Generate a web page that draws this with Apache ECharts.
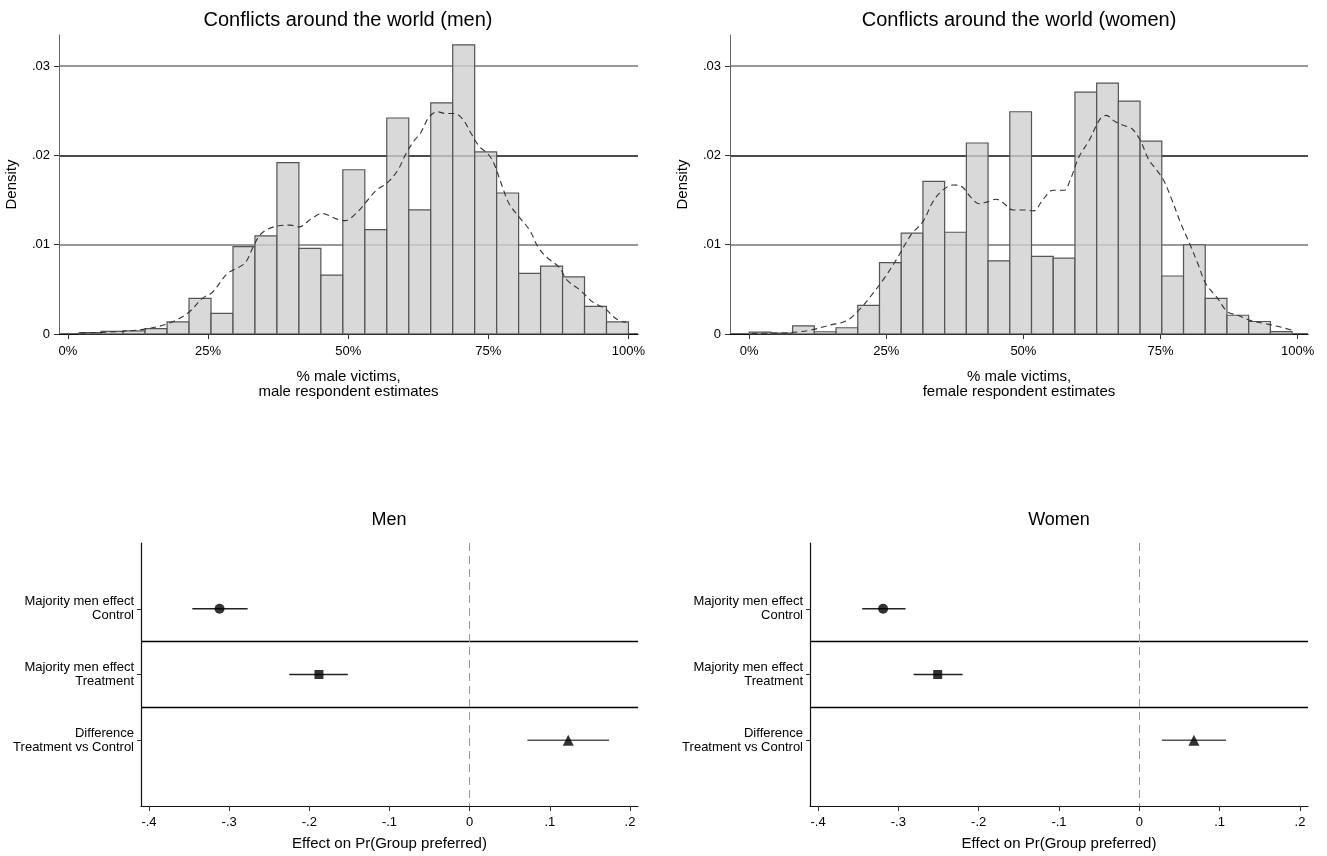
<!DOCTYPE html>
<html>
<head>
<meta charset="utf-8">
<script src="https://cdn.jsdelivr.net/npm/echarts@6/dist/echarts.min.js"></script>
<style>
html, body { margin: 0; padding: 0; background: #fff; }
#main { width: 1327px; height: 856px; }
</style>
</head>
<body>
<div id="main"></div>
<script>
// histogram bins (% male victims)
var menBinStart = 2, menBinWidth = 3.92;
var menDensity = [0.00015, 0.0003, 0.00035, 0.0006, 0.00135, 0.0040, 0.0023, 0.0098, 0.0110, 0.0192,
  0.0096, 0.0066, 0.0184, 0.0117, 0.0242, 0.0139, 0.0259, 0.0324, 0.0204, 0.0158,
  0.0068, 0.0076, 0.0064, 0.0031, 0.00135];
var womenBinStart = 0, womenBinWidth = 3.96;
var womenDensity = [0.0002, 0.0001, 0.0009, 0.00025, 0.0007, 0.0032, 0.0080, 0.0113, 0.0171, 0.0114,
  0.0214, 0.0082, 0.0249, 0.0087, 0.0085, 0.0271, 0.0281, 0.0261, 0.0216, 0.0065,
  0.0100, 0.0040, 0.0021, 0.0014, 0.00026];

// kernel density (dashed)
var menKde = [[2.2, 0.0001], [9.7, 0.0003], [14.2, 0.0006], [18, 0.0012], [21.3, 0.0023], [24, 0.0040],
  [25.8, 0.0047], [28.5, 0.0068], [31.5, 0.0079], [33, 0.0097], [34.4, 0.0112], [36.7, 0.0120],
  [39.7, 0.0122], [41.2, 0.0120], [43.4, 0.0129], [45.3, 0.0135], [47.9, 0.0129], [49.4, 0.0127],
  [51.7, 0.0137], [53.2, 0.0148], [55, 0.0161], [56.9, 0.0169], [58.8, 0.0183], [60.3, 0.0202],
  [61.8, 0.0217], [62.9, 0.0225], [64.4, 0.0243], [65.9, 0.0249], [67.4, 0.0247], [68.9, 0.0247],
  [70.4, 0.0241], [71.9, 0.0225], [73.4, 0.0210], [74.9, 0.0202], [76, 0.0191], [77.5, 0.0165],
  [78.7, 0.0146], [80.5, 0.0131], [82.4, 0.0116], [83.9, 0.0097], [85.4, 0.0086], [87.6, 0.0075],
  [89.1, 0.0060], [91.4, 0.0049], [93.6, 0.0036], [95.9, 0.0028], [97.8, 0.0017], [99.6, 0.0013]];
var womenKde = [[0.4, 0.00005], [3.9, 0.0001], [7, 0.00015], [10.9, 0.0004], [14.7, 0.0010], [17.8, 0.0015],
  [20.2, 0.0028], [22.5, 0.0045], [24.8, 0.0064], [27.1, 0.0086], [29.5, 0.0111], [31.8, 0.0127],
  [33.3, 0.0146], [34.9, 0.0159], [37.2, 0.0167], [38.8, 0.0165], [40.3, 0.0154], [41.9, 0.0146],
  [43.4, 0.0148], [45, 0.0151], [46.5, 0.0146], [48.1, 0.0139], [50.4, 0.0139], [51.9, 0.0138],
  [53.5, 0.0150], [55.4, 0.0161], [57.4, 0.0161], [58.5, 0.0172], [60.1, 0.0198], [62, 0.0217],
  [64, 0.0241], [65.1, 0.0245], [66.7, 0.0238], [68.2, 0.0234], [69.8, 0.0230], [71.3, 0.0217],
  [72.9, 0.0195], [74.4, 0.0183], [75.6, 0.0172], [77.1, 0.0150], [78.7, 0.0124], [80.2, 0.0103],
  [81.8, 0.0079], [83.3, 0.0056], [85.3, 0.0041], [87.2, 0.0025], [89.1, 0.0021], [91.5, 0.0015],
  [93.8, 0.0012], [96.1, 0.0009], [99.2, 0.0004]];

var pctTicks = [0, 25, 50, 75, 100];
var densityTicks = [0, 0.01, 0.02, 0.03];
var densityTickLabels = ['0', '.01', '.02', '.03'];

// coefficient plots
var rowLabels = ['Majority men effect\nControl', 'Majority men effect\nTreatment', 'Difference\nTreatment vs Control'];
var rowSymbols = ['circle', 'rect', 'triangle'];
var menEst = [-0.312, -0.188, 0.123];
var menLo = [-0.346, -0.225, 0.072];
var menHi = [-0.277, -0.152, 0.174];
var womenEst = [-0.319, -0.251, 0.068];
var womenLo = [-0.345, -0.281, 0.028];
var womenHi = [-0.291, -0.220, 0.108];
var effectTicks = [-0.4, -0.3, -0.2, -0.1, 0, 0.1, 0.2];
var effectTickLabels = ['-.4', '-.3', '-.2', '-.1', '0', '.1', '.2'];

var FONT = '"Liberation Sans", Arial, sans-serif';
var myChart = echarts.init(document.getElementById('main'), null, { renderer: 'canvas' });

function histSeries(idx, start, width, dens) {
  var data = dens.map(function (d, i) {
    return [start + i * width, start + (i + 1) * width, d];
  });
  return {
    type: 'custom', xAxisIndex: idx, yAxisIndex: idx, z: 3, silent: true,
    data: data, encode: { x: [0, 1], y: 2 },
    renderItem: function (params, api) {
      var p0 = api.coord([api.value(0), api.value(2)]);
      var p1 = api.coord([api.value(1), 0]);
      return {
        type: 'rect',
        shape: { x: p0[0], y: p0[1], width: p1[0] - p0[0], height: p1[1] - p0[1] },
        style: { fill: 'rgba(208,208,208,0.8)', stroke: '#555', lineWidth: 1.2 }
      };
    }
  };
}

function kdeSeries(idx, pts) {
  return {
    type: 'line', xAxisIndex: idx, yAxisIndex: idx, z: 4, silent: true,
    data: pts, showSymbol: false, symbol: 'none', smooth: 0.35,
    lineStyle: { color: '#333', width: 1.1, type: [6, 4] }
  };
}

function ciSeries(idx, lo, hi) {
  var data = lo.map(function (l, i) { return [l, hi[i], i + 1]; });
  return {
    type: 'custom', xAxisIndex: idx, yAxisIndex: idx, z: 3, silent: true,
    data: data, encode: { x: [0, 1], y: 2 },
    renderItem: function (params, api) {
      var a = api.coord([api.value(0), api.value(2)]);
      var b = api.coord([api.value(1), api.value(2)]);
      return {
        type: 'line',
        shape: { x1: a[0], y1: a[1], x2: b[0], y2: b[1] },
        style: { stroke: params.dataIndex === 2 ? '#555' : '#222', lineWidth: 1.3 }
      };
    }
  };
}

function pointSeries(idx, est) {
  return {
    type: 'scatter', xAxisIndex: idx, yAxisIndex: idx, z: 5, silent: true,
    data: est.map(function (v, i) {
      return { value: [v, i + 1], symbol: rowSymbols[i], symbolSize: i === 2 ? 11 : (i === 1 ? 9 : 10) };
    }),
    itemStyle: { color: '#000' },
    markLine: {
      silent: true, symbol: 'none', label: { show: false },
      data: [
        { yAxis: 1.5, lineStyle: { color: '#000', width: 1.3, type: 'solid' } },
        { yAxis: 2.5, lineStyle: { color: '#000', width: 1.3, type: 'solid' } },
        { xAxis: 0, lineStyle: { color: '#999', width: 1, type: [8, 5] } }
      ]
    }
  };
}

function pctAxis(idx, min, max, name) {
  return {
    type: 'value', gridIndex: idx, min: min, max: max,
    name: name, nameLocation: 'middle', nameGap: 36,
    nameTextStyle: { fontFamily: FONT, fontSize: 15, color: '#000', lineHeight: 14.5 },
    axisLine: { show: true, onZero: false, lineStyle: { color: '#111', width: 1.2 } },
    axisTick: { show: true, length: 5, customValues: pctTicks, lineStyle: { color: '#333' } },
    axisLabel: {
      customValues: pctTicks, margin: 11, fontFamily: FONT, fontSize: 13, color: '#000',
      formatter: function (v) { return v + '%'; }
    },
    splitLine: { show: false }
  };
}

function densityAxis(idx) {
  return {
    type: 'value', gridIndex: idx, min: 0, max: 0.0335, interval: 0.01,
    name: 'Density', nameLocation: 'middle', nameRotate: 90, nameGap: 40,
    nameTextStyle: { fontFamily: FONT, fontSize: 15, color: '#000' },
    axisLine: { show: true, onZero: false, lineStyle: { color: '#666', width: 1 } },
    axisTick: { show: true, length: 5, customValues: densityTicks, lineStyle: { color: '#333' } },
    axisLabel: {
      customValues: densityTicks, margin: 9, fontFamily: FONT, fontSize: 13, color: '#000',
      formatter: function (v) { return densityTickLabels[densityTicks.indexOf(v)]; }
    },
    splitLine: {
      show: true,
      lineStyle: { color: ['#333', '#777', '#111', '#777'], width: 1.5 }
    }
  };
}

function effectAxis(idx) {
  return {
    type: 'value', gridIndex: idx, min: -0.41, max: 0.21,
    name: 'Effect on Pr(Group preferred)', nameLocation: 'middle', nameGap: 30,
    nameTextStyle: { fontFamily: FONT, fontSize: 15, color: '#000' },
    axisLine: { show: true, onZero: false, lineStyle: { color: '#111', width: 1.2 } },
    axisTick: { show: true, length: 5, customValues: effectTicks, lineStyle: { color: '#333' } },
    axisLabel: {
      customValues: effectTicks, margin: 10, fontFamily: FONT, fontSize: 13, color: '#000',
      formatter: function (v) {
        var k = effectTicks.indexOf(v);
        return k >= 0 ? effectTickLabels[k] : '';
      }
    },
    splitLine: { show: false }
  };
}

function rowAxis(idx) {
  return {
    type: 'value', gridIndex: idx, min: 0, max: 4, inverse: true,
    axisLine: { show: true, onZero: false, lineStyle: { color: '#111', width: 1.2 } },
    axisTick: { show: true, length: 4, customValues: [1, 2, 3], lineStyle: { color: '#333' } },
    axisLabel: {
      customValues: [1, 2, 3], margin: 7, fontFamily: FONT, fontSize: 13, color: '#000',
      lineHeight: 14, align: 'right',
      formatter: function (v) { return rowLabels[v - 1] || ''; }
    },
    splitLine: { show: false }
  };
}

var titleStyle = { fontFamily: FONT, fontSize: 20, fontWeight: 'normal', color: '#000' };
var subTitleStyle = { fontFamily: FONT, fontSize: 18, fontWeight: 'normal', color: '#000' };

var option = {
  animation: false,
  backgroundColor: '#fff',
  title: [
    { text: 'Conflicts around the world (men)', left: 348, top: 10, textAlign: 'center', padding: 0, textStyle: titleStyle },
    { text: 'Conflicts around the world (women)', left: 1019, top: 10, textAlign: 'center', padding: 0, textStyle: titleStyle },
    { text: 'Men', left: 389, top: 511, textAlign: 'center', padding: 0, textStyle: subTitleStyle },
    { text: 'Women', left: 1059, top: 511, textAlign: 'center', padding: 0, textStyle: subTitleStyle }
  ],
  grid: [
    { left: 59, top: 35, width: 579, height: 299 },
    { left: 730, top: 35, width: 578, height: 299 },
    { left: 141, top: 543, width: 497, height: 263 },
    { left: 810, top: 543, width: 498, height: 263 }
  ],
  xAxis: [
    pctAxis(0, -1.6, 101.7, '% male victims,\nmale respondent estimates'),
    pctAxis(1, -3.5, 101.9, '% male victims,\nfemale respondent estimates'),
    effectAxis(2),
    effectAxis(3)
  ],
  yAxis: [densityAxis(0), densityAxis(1), rowAxis(2), rowAxis(3)],
  series: [
    histSeries(0, menBinStart, menBinWidth, menDensity),
    kdeSeries(0, menKde),
    histSeries(1, womenBinStart, womenBinWidth, womenDensity),
    kdeSeries(1, womenKde),
    ciSeries(2, menLo, menHi),
    pointSeries(2, menEst),
    ciSeries(3, womenLo, womenHi),
    pointSeries(3, womenEst)
  ]
};

myChart.setOption(option);

window.addEventListener('resize', function () {
  myChart.resize();
});
</script>
</body>
</html>
